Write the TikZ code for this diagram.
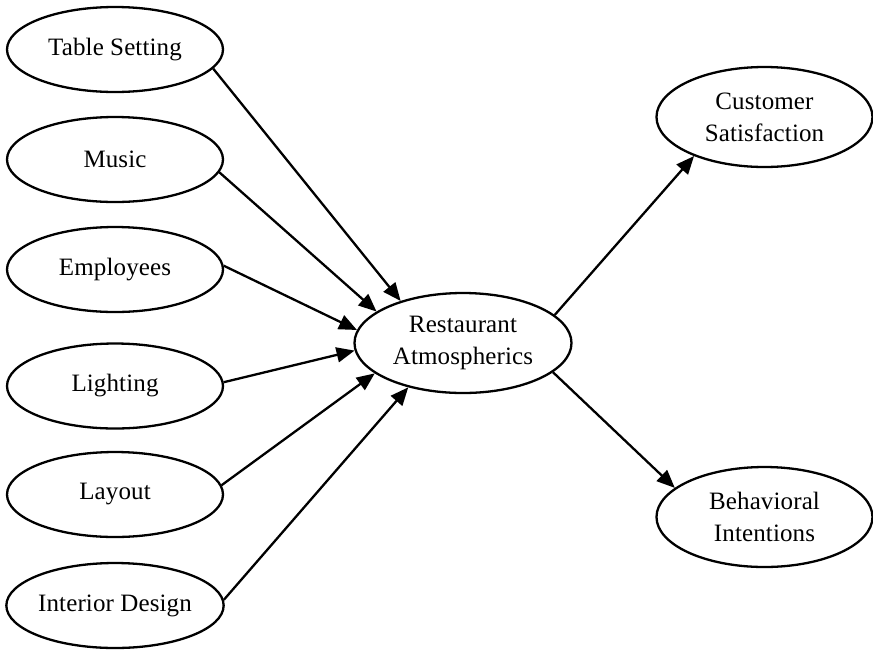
\documentclass[tikz,border=0pt]{standalone}
\usepackage{fontspec}
\setmainfont{Liberation Serif}[LetterSpace=0.5]
\usetikzlibrary{shapes.geometric,arrows.meta}
\begin{document}
\begin{tikzpicture}[x=1pt,y=-1pt,
  oval/.style={draw=black, line width=2.3pt, ellipse, inner sep=0pt,
    minimum width=216pt, minimum height=85pt, align=center,
    font=\fontsize{25}{32}\selectfont},
  bigoval/.style={oval, minimum height=100pt},
  link/.style={draw=black, line width=2.3pt, -{Triangle[length=18pt,width=15pt]}}]
\useasboundingbox (0,0) rectangle (873,649);
\node[oval] (ts) at (115,49.5) {Table Setting};
\node[oval] (mu) at (115,159.5) {Music};
\node[oval] (em) at (115,269.5) {Employees};
\node[oval] (li) at (115,386) {Lighting};
\node[oval] (la) at (115,494.5) {Layout};
\node[oval] (id) at (115,605.5) {Interior Design};
\node[bigoval, minimum width=217pt] (ra) at (463,343) {Restaurant\\Atmospherics};
\node[bigoval] (cs) at (764.5,117) {Customer\\Satisfaction};
\node[bigoval] (bi) at (764.5,517) {Behavioral\\Intentions};
\draw[link] (ts.-11) -- (ra.146);
\draw[link] (mu.-7) -- (ra.160);
\draw[link] (em.2) -- (ra.173);
\draw[link] (li.2) -- (ra.184);
\draw[link] (la.5) -- (ra.199);
\draw[link] (id.3) -- (ra.219);
\draw[link] (ra.17) -- (cs.209);
\draw[link] (ra.-18) -- (bi.162);
\end{tikzpicture}
\end{document}
